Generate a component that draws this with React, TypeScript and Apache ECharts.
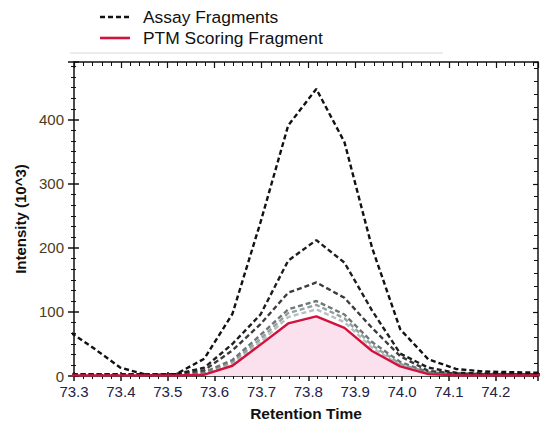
import React, { useEffect, useRef } from "react";
import * as echarts from "echarts";

const retentionTime = [73.28, 73.339, 73.399, 73.459, 73.518, 73.578, 73.638, 73.698, 73.757, 73.817, 73.877, 73.936, 73.996, 74.056, 74.115, 74.175, 74.235, 74.295];

const assay1 = [74, 45, 13, 1, 3, 27, 97, 240, 391, 448, 365, 200, 73, 26, 11, 7, 6, 5];
const assay2 = [3, 3, 3, 3, 3, 13, 50, 96, 180, 212, 177, 102, 35, 13, 5, 4, 3, 3];
const assay3 = [3, 3, 3, 3, 3, 9, 40, 81, 130, 146, 122, 75, 31, 8, 4, 3, 3, 3];
const assay4 = [2, 2, 2, 2, 2, 6, 25, 64, 104, 117, 96, 53, 22, 6, 3, 2, 2, 2];
const assay5 = [2, 2, 2, 2, 2, 5, 22, 58, 98, 111, 90, 48, 19, 5, 2, 2, 2, 2];
const assay6 = [2, 2, 2, 2, 2, 4, 19, 53, 92, 104, 84, 44, 17, 4, 2, 2, 2, 2];
const ptmScoring = [1, 1, 1, 1, 1, 2, 16, 49, 82, 93, 75, 39, 15, 3, 1, 1, 1, 1];

const assaySeries = [assay1, assay2, assay3, assay4, assay5, assay6];
const assayColors = ["#111111", "#1e1e1e", "#3c3c3c", "#6f7878", "#95a0a0", "#b7c0c0"];

const legendLabels = ["Assay Fragments", "PTM Scoring Fragment"];
const xLabel = "Retention Time";
const yLabel = "Intensity (10^3)";

const FONT = "'Liberation Sans', Arial, sans-serif";
const RED = "#d0123c";

const pairs = (vals: number[]) => retentionTime.map((t, i) => [t, vals[i]]);

export default function App() {
  const ref = useRef<HTMLDivElement>(null);
  useEffect(() => {
    if (!ref.current) return;
    const chart = echarts.init(ref.current, null, { renderer: "svg" });
    const xCommon = { type: "value", min: 73.3, max: 74.29, interval: 0.1, gridIndex: 0, splitLine: { show: false } };
    const yCommon = { type: "value", min: 0, max: 490, interval: 100, gridIndex: 0, splitLine: { show: false } };
    const series: any[] = assaySeries.map((vals, i) => ({
      type: "line",
      name: "Assay Fragments",
      data: pairs(vals),
      symbol: "none",
      xAxisIndex: 0,
      yAxisIndex: 0,
      lineStyle: { color: assayColors[i], width: 2.4, type: [5, 3] },
      z: 3 + (6 - i),
    }));
    series.push({
      type: "line",
      name: "PTM Scoring Fragment",
      data: pairs(ptmScoring),
      symbol: "none",
      xAxisIndex: 0,
      yAxisIndex: 0,
      lineStyle: { color: RED, width: 2.4 },
      areaStyle: { color: "#fbe0ee", opacity: 1 },
      z: 20,
    });
    chart.setOption({
      animation: false,
      grid: { left: 74, right: 2, top: 62, bottom: 49, containLabel: false },
      xAxis: [
        {
          ...xCommon,
          position: "bottom",
          name: xLabel,
          nameLocation: "middle",
          nameGap: 29,
          nameTextStyle: { fontFamily: FONT, fontSize: 15.5, fontWeight: "bold", color: "#111" },
          axisLine: { show: true, onZero: false, lineStyle: { color: "#111", width: 1.5 } },
          axisTick: { show: true, inside: false, length: 5, lineStyle: { color: "#111", width: 1.5 } },
          minorTick: { show: true, splitNumber: 5, length: 3, lineStyle: { color: "#111", width: 1 } },
          axisLabel: {
            show: true,
            margin: 8,
            fontFamily: FONT,
            fontSize: 15,
            color: "#22224a",
            showMaxLabel: false,
            formatter: (v: number) => v.toFixed(1),
          },
        },
        {
          ...xCommon,
          position: "bottom",
          axisLine: { show: false, onZero: false },
          axisTick: { show: true, inside: true, length: 4, lineStyle: { color: "#111", width: 1.5 } },
          minorTick: { show: true, splitNumber: 5, length: 2, lineStyle: { color: "#111", width: 1 } },
          axisLabel: { show: false },
        },
        {
          ...xCommon,
          position: "top",
          axisLine: { show: true, onZero: false, lineStyle: { color: "#111", width: 1.5 } },
          axisTick: { show: true, inside: true, length: 6, lineStyle: { color: "#111", width: 1.2 } },
          minorTick: { show: true, splitNumber: 5, length: 4, lineStyle: { color: "#111", width: 1 } },
          axisLabel: { show: false },
        },
      ],
      yAxis: [
        {
          ...yCommon,
          position: "left",
          name: yLabel,
          nameLocation: "middle",
          nameGap: 43,
          nameTextStyle: { fontFamily: FONT, fontSize: 15, fontWeight: "bold", color: "#111" },
          axisLine: { show: true, onZero: false, lineStyle: { color: "#111", width: 1.5 } },
          axisTick: { show: true, inside: false, length: 6, lineStyle: { color: "#111", width: 1.5 } },
          minorTick: { show: true, splitNumber: 6, length: 3, lineStyle: { color: "#111", width: 1 } },
          axisLabel: {
            show: true,
            margin: 10,
            fontFamily: FONT,
            fontSize: 15,
            color: "#4a3c22",
            showMaxLabel: false,
          },
        },
        {
          ...yCommon,
          position: "left",
          axisLine: { show: false, onZero: false },
          axisTick: { show: true, inside: true, length: 5, lineStyle: { color: "#111", width: 1.5 } },
          minorTick: { show: true, splitNumber: 6, length: 2, lineStyle: { color: "#111", width: 1 } },
          axisLabel: { show: false },
        },
        {
          ...yCommon,
          position: "right",
          axisLine: { show: true, onZero: false, lineStyle: { color: "#111", width: 1.5 } },
          axisTick: { show: true, inside: true, length: 5, lineStyle: { color: "#111", width: 1.2 } },
          minorTick: { show: true, splitNumber: 5, length: 4, lineStyle: { color: "#111", width: 1 } },
          axisLabel: { show: false },
        },
      ],
      series,
      graphic: [
        {
          type: "line",
          shape: { x1: 70, y1: 53, x2: 443, y2: 53 },
          style: { stroke: "#e1e6e8", lineWidth: 1.5 },
        },
        {
          type: "line",
          shape: { x1: 100, y1: 17, x2: 130, y2: 17 },
          style: { stroke: "#111", lineWidth: 2.6, lineDash: [5, 3] },
        },
        {
          type: "text",
          x: 143,
          y: 17,
          style: { text: legendLabels[0], fontFamily: FONT, fontSize: 17.4, fill: "#111", verticalAlign: "middle", align: "left" },
        },
        {
          type: "line",
          shape: { x1: 100, y1: 38, x2: 130, y2: 38 },
          style: { stroke: RED, lineWidth: 2.6 },
        },
        {
          type: "text",
          x: 143,
          y: 38,
          style: { text: legendLabels[1], fontFamily: FONT, fontSize: 17.4, fill: "#111", verticalAlign: "middle", align: "left" },
        },
      ],
    });
    return () => chart.dispose();
  }, []);
  return <div ref={ref} style={{ width: 540, height: 426, position: "absolute", left: 0, top: 0 }} />;
}
